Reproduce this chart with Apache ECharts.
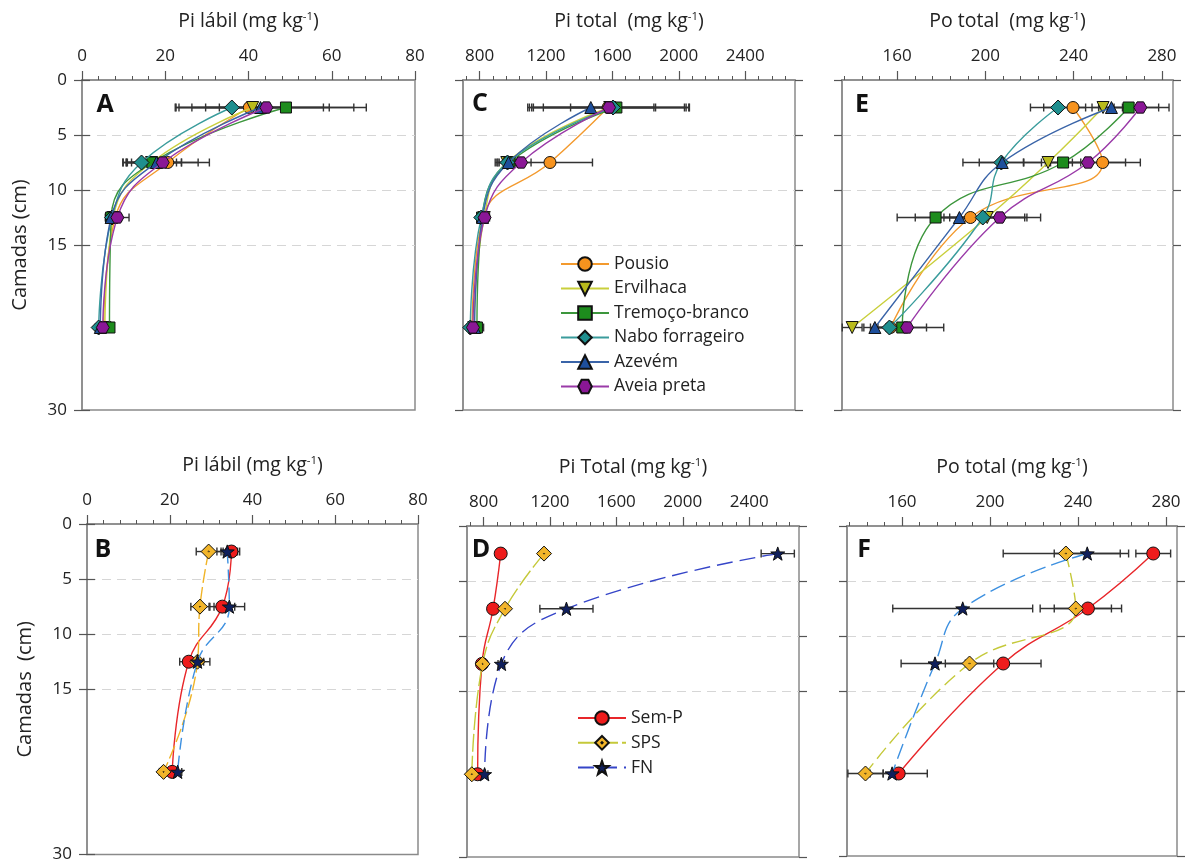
<!DOCTYPE html>
<html>
<head>
<meta charset="utf-8">
<script src="https://cdn.jsdelivr.net/npm/echarts@6/dist/echarts.min.js"></script>
<style>
  html, body { margin: 0; padding: 0; background: #ffffff; }
  #chart { width: 1185px; height: 863px; }
</style>
</head>
<body>
<div id="chart"></div>
<script>
// Soil layers (cm, layer mid-points) and axis tick labels
const depths = [2.5, 7.5, 12.5, 22.5];
const depthTicks = [0, 5, 10, 15, 30];
const labilTicks = [0, 20, 40, 60, 80];
const piTotalTicks = [800, 1200, 1600, 2000, 2400];
const poTotalTicks = [160, 200, 240, 280];

// Cover crops (panels A, C, E)
const coverNames = ['Pousio', 'Ervilhaca', 'Tremoço-branco', 'Nabo forrageiro', 'Azevém', 'Aveia preta'];

// A – Pi lábil (mg kg-1), one row per cover crop, one value per layer
const piLabilCover = [
  [40.2, 20.6, 8.0, 5.2],
  [41.0, 16.7, 7.5, 5.5],
  [49.0, 16.9, 7.0, 6.6],
  [36.0, 14.3, 7.2, 4.0],
  [42.9, 17.9, 7.0, 4.4],
  [44.3, 19.4, 8.5, 5.0]
];
const piLabilCoverErr = [
  [17.8, 10.0, 1.5, 0.8],
  [8.0, 6.0, 1.2, 0.8],
  [19.3, 7.0, 1.4, 1.0],
  [13.4, 4.5, 1.0, 0.8],
  [16.5, 6.0, 1.0, 0.8],
  [21.0, 8.5, 2.8, 0.8]
];

// C – Pi total (mg kg-1)
const piTotalCover = [
  [1574, 1224, 820, 755],
  [1584, 964, 828, 765],
  [1624, 980, 815, 784],
  [1604, 968, 810, 744],
  [1470, 974, 818, 770],
  [1580, 1050, 830, 760]
];
const piTotalCoverErr = [
  [460, 256, 30, 20],
  [460, 60, 25, 20],
  [440, 70, 20, 40],
  [256, 50, 20, 20],
  [380, 80, 25, 20],
  [480, 60, 30, 20]
];

// E – Po total (mg kg-1)
const poTotalCover = [
  [239.7, 253.1, 193.2, 157.0],
  [253.3, 228.4, 200.8, 139.6],
  [264.9, 235.2, 177.4, 162.3],
  [232.9, 207.2, 198.8, 156.5],
  [257.1, 207.6, 188.2, 149.9],
  [270.2, 246.5, 206.5, 164.5]
];
const poTotalCoverErr = [
  [13.3, 17.1, 12.0, 7.0],
  [5.0, 11.0, 17.0, 4.5],
  [13.6, 8.0, 17.4, 11.0],
  [12.5, 10.0, 20.0, 7.0],
  [5.0, 17.8, 20.0, 5.0],
  [13.0, 17.0, 18.5, 16.6]
];

// Phosphate sources (panels B, D, F)
const sourceNames = ['Sem-P', 'SPS', 'FN'];

// B – Pi lábil (mg kg-1)
const piLabilSource = [
  [34.9, 32.7, 24.6, 20.6],
  [29.4, 27.3, 26.7, 18.5],
  [33.9, 34.4, 26.7, 21.9]
];
const piLabilSourceErr = [
  [2.0, 3.0, 2.2, 1.0],
  [3.0, 2.2, 1.5, 1.0],
  [2.5, 3.7, 3.0, 1.0]
];

// D – Pi total (mg kg-1)
const piTotalSource = [
  [903, 857, 790, 764],
  [1164, 929, 794, 729],
  [2572, 1299, 907, 806]
];
const piTotalSourceErr = [
  [0, 0, 0, 10],
  [0, 0, 10, 10],
  [100, 160, 20, 20]
];

// F – Po total (mg kg-1)
const poTotalSource = [
  [274.2, 244.5, 206.0, 158.5],
  [234.5, 239.0, 190.7, 143.4],
  [244.2, 187.6, 175.0, 155.5]
];
const poTotalSourceErr = [
  [7.9, 15.3, 17.2, 13.0],
  [28.5, 16.2, 11.0, 8.0],
  [15.0, 31.8, 15.4, 4.0]
];

// ---------------------------------------------------------------------------
// Styling
const FONT = "'Open Sans', 'Liberation Sans', sans-serif";
const HEXAGON = 'path://M-5,-8.66 L5,-8.66 L10,0 L5,8.66 L-5,8.66 L-10,0 Z';
const STAR = 'path://M0,-10 L2.35,-3.24 L9.51,-3.09 L3.8,1.24 L5.88,8.09 L0,4 L-5.88,8.09 L-3.8,1.24 L-9.51,-3.09 L-2.35,-3.24 Z';
const DOT_DIAMOND = 'path://M0,-10 L10,0 L0,10 L-10,0 Z M0,-0.8 L0.8,0 L0,0.8 L-0.8,0 Z';

const coverStyles = [
  { symbol: 'circle', size: 12, rotate: 0, fill: '#f7931e', line: '#f39a2e' },
  { symbol: 'triangle', size: 12, rotate: 180, fill: '#b9bb1c', line: '#c9cf3c' },
  { symbol: 'rect', size: 11, rotate: 0, fill: '#1d8c1d', line: '#3c963c' },
  { symbol: 'diamond', size: 15, rotate: 0, fill: '#1f8f8f', line: '#3a9c9c' },
  { symbol: 'triangle', size: 12, rotate: 0, fill: '#1e4f9c', line: '#3a64a8' },
  { symbol: HEXAGON, size: 13, rotate: 0, fill: '#8a1796', line: '#9a3aa8' }
];

// per-panel line colours / dashes for the phosphate sources
const sourceSymbols = [
  { symbol: 'circle', size: 13, fill: '#ee1c1c' },
  { symbol: DOT_DIAMOND, size: 15, fill: '#f2b52a' },
  { symbol: STAR, size: 14, fill: '#0f1f5c' }
];
const sourceLinesB = [
  { color: '#e8262a', type: 'solid' },
  { color: '#f0b428', type: [14, 4] },
  { color: '#3d90e0', type: [12, 6] }
];
const sourceLinesD = [
  { color: '#e8262a', type: 'solid' },
  { color: '#c5c93a', type: [18, 4] },
  { color: '#3545c8', type: [16, 7] }
];
const sourceLinesF = [
  { color: '#e8262a', type: 'solid' },
  { color: '#c5c93a', type: [14, 6] },
  { color: '#3d90e0', type: [16, 6] }
];

const panels = [
  { letter: 'A', grid: { left: 82, top: 80, width: 333, height: 330 }, range: [0, 80], ticks: labilTicks, step: 4,
    title: 'Pi lábil (mg kg{s|-1})', yName: 'Camadas (cm)', showY: true, letterPos: [105, 105],
    values: piLabilCover, errors: piLabilCoverErr, names: coverNames, kind: 'cover' },
  { letter: 'C', grid: { left: 463, top: 80, width: 332, height: 330 }, range: [700, 2700], ticks: piTotalTicks, step: 80,
    title: 'Pi total  (mg kg{s|-1})', yName: '', showY: false, letterPos: [480, 104],
    values: piTotalCover, errors: piTotalCoverErr, names: coverNames, kind: 'cover' },
  { letter: 'E', grid: { left: 842, top: 80, width: 331, height: 330 }, range: [135, 285], ticks: poTotalTicks, step: 8,
    title: 'Po total  (mg kg{s|-1})', yName: '', showY: false, letterPos: [862, 105],
    values: poTotalCover, errors: poTotalCoverErr, names: coverNames, kind: 'cover' },
  { letter: 'D', grid: { left: 467, top: 526, width: 332, height: 331 }, range: [700, 2700], ticks: piTotalTicks, step: 80,
    title: 'Pi Total (mg kg{s|-1})', yName: '', showY: false, letterPos: [481, 550],
    values: piTotalSource, errors: piTotalSourceErr, names: sourceNames, kind: 'source', lines: sourceLinesD },
  { letter: 'B', grid: { left: 87, top: 524, width: 331, height: 331 }, range: [0, 80], ticks: labilTicks, step: 4,
    title: 'Pi lábil (mg kg{s|-1})', yName: 'Camadas  (cm)', showY: true, letterPos: [103, 550],
    values: piLabilSource, errors: piLabilSourceErr, names: sourceNames, kind: 'source', lines: sourceLinesB },
  { letter: 'F', grid: { left: 847, top: 526, width: 330, height: 330 }, range: [135, 285], ticks: poTotalTicks, step: 8,
    title: 'Po total (mg kg{s|-1})', yName: '', showY: false, letterPos: [864, 550],
    values: poTotalSource, errors: poTotalSourceErr, names: sourceNames, kind: 'source', lines: sourceLinesF }
];

function minorTicks(range, ticks, step) {
  const out = [];
  const start = ticks[0] - Math.floor((ticks[0] - range[0]) / step) * step;
  for (let v = start; v <= range[1] + 1e-9; v += step) {
    const r = Math.round(v * 1000) / 1000;
    if (ticks.indexOf(r) === -1 && r >= range[0]) out.push(r);
  }
  return out;
}

const plain = v => String(v);
const AXIS_GRAY = '#8a8a8a';
const TICK_GRAY = '#555555';
const TRANSPARENT = 'rgba(0,0,0,0)';

const grids = [], xAxes = [], yAxes = [], series = [], graphics = [];

function errorBarRenderer(params, api) {
  const x = api.value(0), y = api.value(1), e = api.value(2);
  if (!(e > 0)) return null;
  const p1 = api.coord([x - e, y]);
  const p2 = api.coord([x + e, y]);
  const h = 4;
  const st = { stroke: '#333333', lineWidth: 1.4 };
  return {
    type: 'group',
    children: [
      { type: 'line', shape: { x1: p1[0], y1: p1[1], x2: p2[0], y2: p2[1] }, style: st },
      { type: 'line', shape: { x1: p1[0], y1: p1[1] - h, x2: p1[0], y2: p1[1] + h }, style: st },
      { type: 'line', shape: { x1: p2[0], y1: p2[1] - h, x2: p2[0], y2: p2[1] + h }, style: st }
    ]
  };
}

panels.forEach((p, gi) => {
  grids.push(Object.assign({ show: true, borderColor: AXIS_GRAY, borderWidth: 1.5, backgroundColor: '#ffffff' }, p.grid));

  // top value axis with labelled major ticks
  xAxes.push({
    type: 'value', gridIndex: gi, position: 'top', min: p.range[0], max: p.range[1],
    axisLine: { show: true, lineStyle: { color: AXIS_GRAY, width: 1.5 } },
    axisTick: { show: true, length: 9, customValues: p.ticks, lineStyle: { color: TICK_GRAY, width: 1.2 } },
    axisLabel: { show: true, customValues: p.ticks, formatter: plain, margin: 15, fontSize: 17, color: '#222', fontFamily: FONT },
    splitLine: { show: false },
    name: p.title, nameLocation: 'middle', nameGap: 48,
    nameTextStyle: {
      fontSize: 19.5, color: '#222', fontFamily: FONT,
      rich: { s: { fontSize: 11.5, verticalAlign: 'top', color: '#222', fontFamily: FONT, padding: [0, 0, 9, 0] } }
    }
  });
  // short minor ticks
  xAxes.push({
    type: 'value', gridIndex: gi, position: 'top', min: p.range[0], max: p.range[1],
    axisLine: { show: false },
    axisTick: { show: true, length: 4, customValues: minorTicks(p.range, p.ticks, p.step), lineStyle: { color: TICK_GRAY, width: 1 } },
    axisLabel: { show: false },
    splitLine: { show: false }
  });

  // depth axis (left) with dashed guides at 5, 10 and 15 cm
  yAxes.push({
    type: 'value', gridIndex: gi, position: 'left', inverse: true, min: 0, max: 30, interval: 5,
    axisLine: { show: true, lineStyle: { color: AXIS_GRAY, width: 1.5 } },
    axisTick: { show: true, length: 8, customValues: depthTicks, lineStyle: { color: TICK_GRAY, width: 1.2 } },
    axisLabel: { show: p.showY, customValues: depthTicks, formatter: plain, margin: 15, fontSize: 17, color: '#222', fontFamily: FONT },
    splitLine: {
      show: true,
      lineStyle: { color: [TRANSPARENT, '#d6d6d6', '#d6d6d6', '#d6d6d6', TRANSPARENT, TRANSPARENT, TRANSPARENT], type: [9, 6], width: 1 }
    },
    name: p.yName, nameLocation: 'middle', nameGap: 52, nameRotate: 90,
    nameTextStyle: { fontSize: 20, color: '#222', fontFamily: FONT }
  });
  // depth ticks on the right edge
  yAxes.push({
    type: 'value', gridIndex: gi, position: 'right', inverse: true, min: 0, max: 30, interval: 5,
    axisLine: { show: false },
    axisTick: { show: true, length: 8, customValues: depthTicks, lineStyle: { color: TICK_GRAY, width: 1.2 } },
    axisLabel: { show: false },
    splitLine: { show: false }
  });

  const xi = gi * 2, yi = gi * 2;

  // error bars for every treatment of the panel
  const errRows = [];
  p.values.forEach((row, si) => {
    row.forEach((v, di) => errRows.push([v, depths[di], p.errors[si][di]]));
  });
  series.push({
    type: 'custom', xAxisIndex: xi, yAxisIndex: yi, data: errRows, renderItem: errorBarRenderer,
    encode: { x: 0, y: 1 }, z: 1, silent: true, clip: false
  });

  // depth profiles
  p.values.forEach((row, si) => {
    let sym, line;
    if (p.kind === 'cover') {
      const cs = coverStyles[si];
      sym = { symbol: cs.symbol, size: cs.size, rotate: cs.rotate, fill: cs.fill };
      line = { color: cs.line, type: 'solid' };
    } else {
      const ss = sourceSymbols[si];
      sym = { symbol: ss.symbol, size: ss.size, rotate: 0, fill: ss.fill };
      line = p.lines[si];
    }
    series.push({
      type: 'line', name: p.names[si], xAxisIndex: xi, yAxisIndex: yi,
      data: row.map((v, di) => [v, depths[di]]),
      smooth: 0.45,
      symbol: sym.symbol, symbolSize: sym.size, symbolRotate: sym.rotate, symbolKeepAspect: true,
      showAllSymbol: true,
      itemStyle: { color: sym.fill, borderColor: '#111111', borderWidth: 1 },
      lineStyle: { color: line.color, width: 1.4, type: line.type },
      emphasis: { disabled: true },
      z: 3 + si * 0.01
    });
  });

  graphics.push({
    type: 'text', x: p.letterPos[0], y: p.letterPos[1], z: 100,
    style: { text: p.letter, fontSize: 25, fontWeight: 'bold', fill: '#111111', fontFamily: FONT, align: 'center', verticalAlign: 'middle' }
  });
});

const chart = echarts.init(document.getElementById('chart'), null, { renderer: 'canvas' });
chart.setOption({
  backgroundColor: '#ffffff',
  animation: false,
  grid: grids,
  xAxis: xAxes,
  yAxis: yAxes,
  series: series,
  graphic: graphics,
  legend: [
    {
      data: coverNames, orient: 'vertical', left: 555, top: 250, itemWidth: 48, itemHeight: 17, itemGap: 6.5,
      selectedMode: false, textStyle: { fontSize: 17.5, color: '#222', fontFamily: FONT }
    },
    {
      data: sourceNames, orient: 'vertical', left: 572, top: 704, itemWidth: 48, itemHeight: 17, itemGap: 6.8,
      selectedMode: false, textStyle: { fontSize: 17.5, color: '#222', fontFamily: FONT }
    }
  ]
});
</script>
</body>
</html>
